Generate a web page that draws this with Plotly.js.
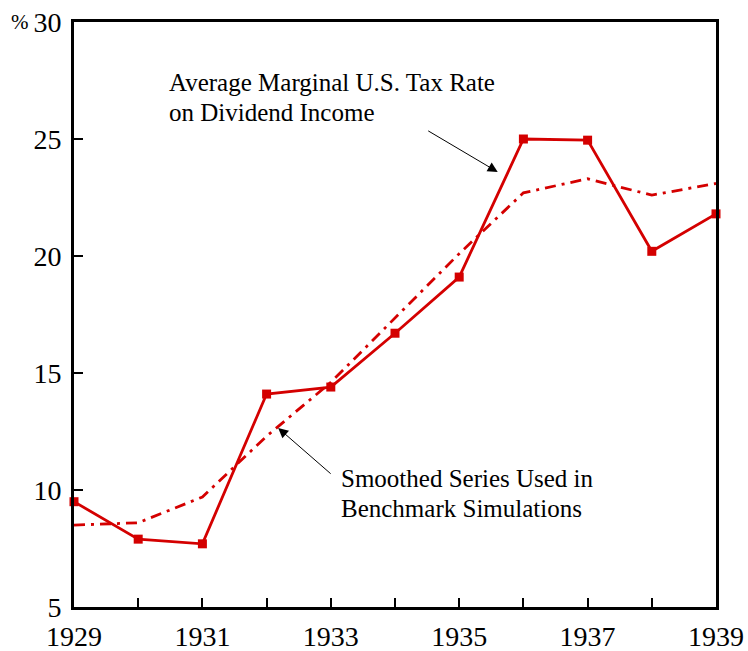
<!DOCTYPE html>
<html>
<head>
<meta charset="utf-8">
<script src="https://cdn.plot.ly/plotly-3.0.1.min.js"></script>
<style>html,body{margin:0;padding:0;background:#fff;}#chart{width:748px;height:651px;}</style>
</head>
<body>
<div id="chart"></div>
<script>
const years = [1929, 1930, 1931, 1932, 1933, 1934, 1935, 1936, 1937, 1938, 1939];
const actualRate = [9.5, 7.9, 7.7, 14.1, 14.4, 16.7, 19.1, 25.0, 24.95, 20.2, 21.8];
const smoothedRate = [8.5, 8.6, 9.7, 12.3, 14.6, 17.35, 20.1, 22.7, 23.3, 22.6, 23.1];
const xTickVals = [1929, 1931, 1933, 1935, 1937, 1939];
const yTickVals = [5, 10, 15, 20, 25, 30];
const labelActual = ["Average Marginal U.S. Tax Rate", "on Dividend Income"];
const labelSmoothed = ["Smoothed Series Used in", "Benchmark Simulations"];

const red = 'rgb(212,0,0)';
const font = '"Liberation Serif", "Times New Roman", serif';

const traces = [
  {x: years, y: smoothedRate, mode: 'lines', line: {color: red, width: 2.8, dash: '11px,6px,3px,6px'}, hoverinfo: 'skip'},
  {x: years, y: actualRate, mode: 'lines+markers', line: {color: red, width: 2.8},
   marker: {symbol: 'square', size: 9, color: red}, cliponaxis: false}
];

function txt(t, x, y) {
  return {text: t, xref: 'paper', yref: 'paper', x: x, y: y, xanchor: 'left', yanchor: 'middle',
          showarrow: false, borderpad: 0, font: {family: font, size: 25, color: '#000'}};
}
function arrow(x, y, ax, ay) {
  return {text: '', xref: 'x', yref: 'y', x: x, y: y, ax: ax, ay: ay, showarrow: true,
          arrowhead: 2, arrowsize: 2, arrowwidth: 1, arrowcolor: '#000'};
}

const layout = {
  width: 748, height: 651,
  margin: {l: 74, r: 32, t: 22, b: 44},
  paper_bgcolor: '#fff', plot_bgcolor: '#fff',
  showlegend: false,
  font: {family: font, color: '#000'},
  xaxis: {
    range: [1929, 1939], tickvals: xTickVals, ticktext: xTickVals.map(String),
    ticks: 'inside', ticklen: 9, tickwidth: 2, tickcolor: '#000',
    minor: {dtick: 1, tick0: 1929, ticks: 'inside', ticklen: 9, tickwidth: 2, tickcolor: '#000'},
    showline: true, linewidth: 3, linecolor: '#000', mirror: true,
    showgrid: false, zeroline: false,
    tickfont: {family: font, size: 28, color: '#000'}, ticklabelstandoff: 2
  },
  yaxis: {
    range: [5, 30], tickvals: yTickVals, ticktext: yTickVals.map(String),
    ticks: 'inside', ticklen: 9, tickwidth: 2, tickcolor: '#000',
    showline: true, linewidth: 3, linecolor: '#000', mirror: true,
    showgrid: false, zeroline: false,
    tickfont: {family: font, size: 28, color: '#000'}, ticklabelstandoff: 4
  },
  annotations: [
    txt(labelActual[0], 0.146, (607 - 82.5) / 585),
    txt(labelActual[1], 0.146, (607 - 112.5) / 585),
    txt(labelSmoothed[0], 0.414, (607 - 478.5) / 585),
    txt(labelSmoothed[1], 0.414, (607 - 508.5) / 585),
    arrow(1935.6, 23.59, -71, -42),
    arrow(1932.18, 12.65, 54, 47),
    {text: '%', xref: 'paper', yref: 'paper', x: -0.084, y: 1, xanchor: 'center', yanchor: 'middle',
     showarrow: false, font: {family: font, size: 21, color: '#000'}}
  ]
};

Plotly.newPlot('chart', traces, layout, {staticPlot: true, displayModeBar: false});
</script>
</body>
</html>
